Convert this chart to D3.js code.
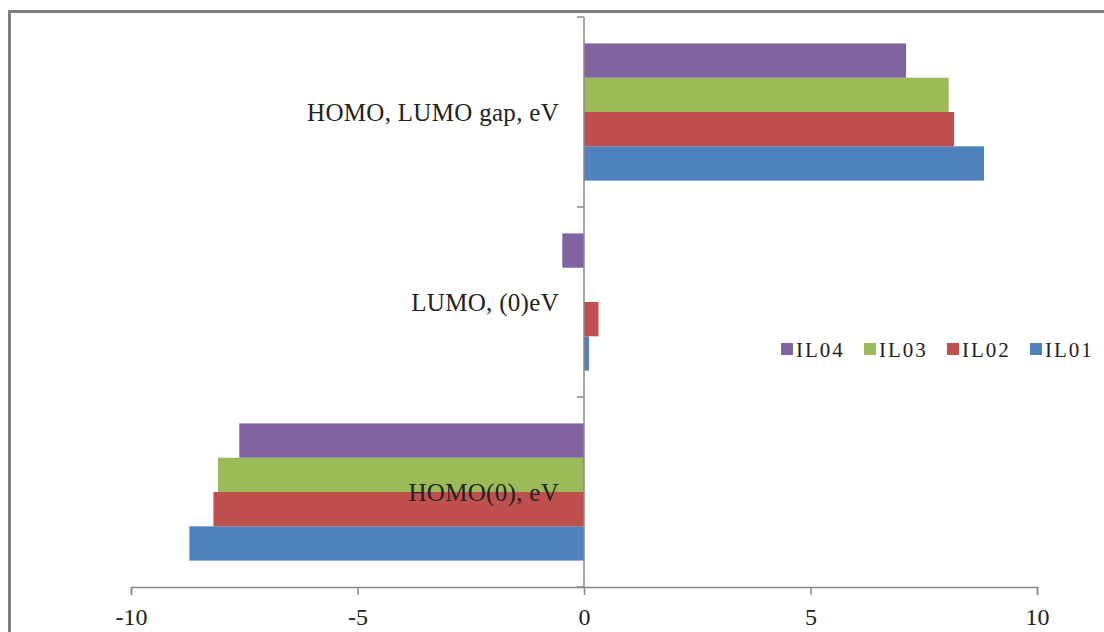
<!DOCTYPE html>
<html>
<head>
<meta charset="utf-8">
<script src="https://cdn.jsdelivr.net/npm/d3@7"></script>
<style>
  html, body { margin: 0; padding: 0; background: #fff; }
  svg { display: block; }
  text { font-family: "Liberation Serif", "Times New Roman", serif; fill: #222; }
</style>
</head>
<body>
<svg id="chart" width="1104" height="632"></svg>
<script>
// Quantities, bottom to top on the category axis
const categories = ["HOMO(0), eV", "LUMO, (0)eV", "HOMO, LUMO gap, eV"];
// Series listed bottom-to-top inside each category group
const seriesNames = ["IL01", "IL02", "IL03", "IL04"];
const IL01 = [-8.71, 0.11, 8.83];
const IL02 = [-8.18, 0.32, 8.17];
const IL03 = [-8.08, 0.00, 8.05];
const IL04 = [-7.61, -0.48, 7.11];
const seriesValues = [IL01, IL02, IL03, IL04];
const xTicks = [-10, -5, 0, 5, 10];
const colors = ["#4F81BD", "#C0504D", "#9BBB59", "#8064A2"];

const W = 1104, H = 632;
const plot = { left: 131, right: 1037, top: 17, bottom: 587 };
const svg = d3.select("#chart");

// Outer frame (left and top edges)
svg.append("path")
  .attr("d", `M9.5,${H} V11.5 H${W}`)
  .attr("fill", "none")
  .attr("stroke", "#7f7f7f")
  .attr("stroke-width", 3);

const x = d3.scaleLinear().domain([-10, 10]).range([plot.left, plot.right]);

// Categories stacked from the bottom up
const y0 = d3.scaleBand()
  .domain(categories)
  .range([plot.bottom, plot.top])
  .paddingInner(0).paddingOuter(0);

// Series within a category: IL01 lowest, IL04 highest
const y1 = d3.scaleBand()
  .domain(seriesNames)
  .range([y0.bandwidth(), 0])
  .paddingInner(0).paddingOuter(0.77);

const rows = [];
categories.forEach((c, ci) => {
  seriesNames.forEach((s, si) => {
    rows.push({ cat: c, series: s, value: seriesValues[si][ci], color: colors[si] });
  });
});

svg.append("g").selectAll("rect")
  .data(rows)
  .join("rect")
  .attr("x", d => x(Math.min(0, d.value)))
  .attr("width", d => Math.abs(x(d.value) - x(0)))
  .attr("y", d => y0(d.cat) + y1(d.series))
  .attr("height", y1.bandwidth())
  .attr("fill", d => d.color);

// Horizontal value axis
const xAxis = svg.append("g")
  .attr("transform", `translate(0,${plot.bottom})`)
  .call(d3.axisBottom(x).tickValues(xTicks).tickSize(8).tickSizeOuter(8).tickPadding(13)
    .tickFormat(d => String(d)));
xAxis.select(".domain").attr("stroke", "#8a8a8a").attr("stroke-width", 1.5);
xAxis.selectAll(".tick line").attr("stroke", "#8a8a8a").attr("stroke-width", 1.5);
xAxis.selectAll(".tick text")
  .attr("font-size", 24)
  .attr("fill", "#222")
  .style("font-family", "'Liberation Serif', serif");

// Vertical category axis at zero, ticks at group boundaries
const yAxis = svg.append("g");
yAxis.append("line")
  .attr("x1", x(0)).attr("x2", x(0))
  .attr("y1", plot.top).attr("y2", plot.bottom)
  .attr("stroke", "#8a8a8a").attr("stroke-width", 1.5);
const boundaries = categories.map(c => y0(c)).concat([plot.bottom]);
yAxis.selectAll(".ytick")
  .data(boundaries)
  .join("line")
  .attr("class", "ytick")
  .attr("x1", x(0) - 7).attr("x2", x(0))
  .attr("y1", d => d).attr("y2", d => d)
  .attr("stroke", "#8a8a8a").attr("stroke-width", 1.5);

// Category labels, right-aligned beside the zero line
svg.append("g").selectAll("text")
  .data(categories)
  .join("text")
  .attr("x", x(0) - 25)
  .attr("y", d => y0(d) + y0.bandwidth() / 2)
  .attr("text-anchor", "end")
  .attr("dominant-baseline", "central")
  .attr("font-size", 25)
  .attr("letter-spacing", 0.3)
  .text(d => d);

// Legend, IL04 first
const legendOrder = seriesNames.slice().reverse();
const legend = svg.append("g").attr("transform", "translate(781,349)");
const item = legend.selectAll("g")
  .data(legendOrder)
  .join("g")
  .attr("transform", (d, i) => `translate(${i * 83},0)`);
item.append("rect")
  .attr("x", 0).attr("y", -6)
  .attr("width", 12).attr("height", 12)
  .attr("fill", d => colors[seriesNames.indexOf(d)]);
item.append("text")
  .attr("x", 15).attr("y", 1)
  .attr("dominant-baseline", "central")
  .attr("font-size", 21)
  .attr("letter-spacing", 2)
  .text(d => d);
</script>
</body>
</html>
